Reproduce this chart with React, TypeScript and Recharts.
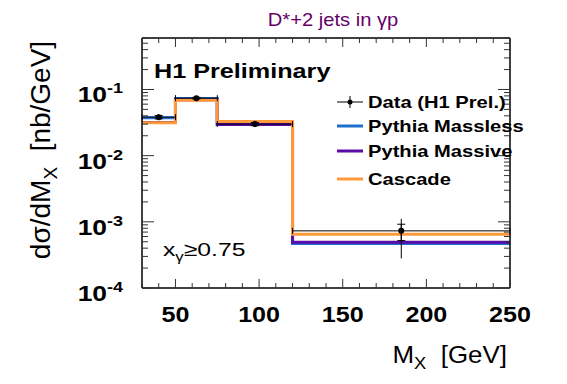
import React from 'react';
import { ComposedChart, Line, Scatter, ErrorBar, XAxis, YAxis, Legend } from 'recharts';

// histogram bin edges (M_X in GeV) and predicted cross sections per bin (nb/GeV)
const binEdges = [30, 50, 75, 120, 250];
const masslessValues = [0.0374, 0.0731, 0.0300, 0.00047];
const massiveValues = [0.0318, 0.0700, 0.0297, 0.00049];
const cascadeValues = [0.0315, 0.0690, 0.0329, 0.00065];

// H1 data points
const dataCentres = [40, 62.5, 97.5, 185];
const dataValues = [0.0382, 0.0740, 0.0300, 0.00073];
const statErrDown = [0.0022, 0.0022, 0.0017, 0.00021];
const statErrUp = [0.0022, 0.0022, 0.0017, 0.00019];
const totErrDown = [0.0037, 0.0040, 0.0030, 0.00045];
const totErrUp = [0.0043, 0.0040, 0.0035, 0.00038];

const xMajorTicks = [50, 100, 150, 200, 250];
const yDecades = [1e-4, 1e-3, 1e-2, 1e-1];
const decadeExponents = ['-4', '-3', '-2', '-1'];

const legendItems = [
  { name: 'Data (H1 Prel.)', color: '#000', isData: true },
  { name: 'Pythia Massless', color: '#1e6fd0', isData: false },
  { name: 'Pythia Massive', color: '#5a0ca6', isData: false },
  { name: 'Cascade', color: '#ff9a3a', isData: false },
];

const FONT = 'Liberation Sans, Arial, Helvetica, sans-serif';
const X_MIN = 30;
const X_MAX = 250;
const Y_MIN = 1e-4;
const Y_MAX = 0.6;

const histRows = binEdges.map((x, i) => {
  const k = Math.min(i, masslessValues.length - 1);
  return { x, massless: masslessValues[k], massive: massiveValues[k], cascade: cascadeValues[k] };
});

const pointRows = dataCentres.map((x, i) => ({
  x,
  y: dataValues[i],
  xErr: (binEdges[i + 1] - binEdges[i]) / 2,
  stat: [statErrDown[i], statErrUp[i]],
  tot: [totErrDown[i], totErrUp[i]],
}));

const xTicks: number[] = [];
for (let v = X_MIN; v <= X_MAX; v += 10) xTicks.push(v);

const yTicks: number[] = [];
yDecades.forEach(d => {
  for (let k = 1; k <= 9; k++) {
    const v = +(d * k).toPrecision(3);
    if (v <= Y_MAX) yTicks.push(v);
  }
});

const decadeIndex = (v: number) => yDecades.findIndex(d => Math.abs(v - d) < d * 1e-6);

const BottomTick = (props: any) => {
  const { x, y, payload } = props;
  const major = xMajorTicks.includes(payload.value);
  return (
    <g>
      <line x1={x} x2={x} y1={y} y2={y - (major ? 9 : 5)} stroke="#333" />
      {major && (
        <text transform={`translate(${x},${y + 34}) scale(1.14,1)`} textAnchor="middle"
          fontFamily={FONT} fontWeight="bold" fontSize={22} fill="#000">
          {payload.value}
        </text>
      )}
    </g>
  );
};

const TopTick = (props: any) => {
  const { x, y, payload } = props;
  const major = xMajorTicks.includes(payload.value);
  return <line x1={x} x2={x} y1={y} y2={y + (major ? 9 : 5)} stroke="#333" />;
};

const LeftTick = (props: any) => {
  const { x, y, payload } = props;
  const idx = decadeIndex(payload.value);
  const major = idx >= 0;
  return (
    <g>
      <line x1={x} x2={x + (major ? 12 : 6)} y1={y} y2={y} stroke="#333" />
      {major && (
        <text transform={`translate(123,${y + 13}) scale(1.2,1)`} textAnchor="end"
          fontFamily={FONT} fontWeight="bold" fontSize={22} fill="#000">
          10<tspan dy={-9} fontSize={15}>{decadeExponents[idx]}</tspan>
        </text>
      )}
    </g>
  );
};

const RightTick = (props: any) => {
  const { x, y, payload } = props;
  const major = decadeIndex(payload.value) >= 0;
  return <line x1={x} x2={x - (major ? 12 : 6)} y1={y} y2={y} stroke="#333" />;
};

const DataDot = (props: any) => {
  const { cx, cy } = props;
  return <circle cx={cx} cy={cy} r={3} fill="#000" />;
};

const LegendBox = () => {
  const rows = [14, 38, 63, 91];
  return (
    <svg width={210} height={105} style={{ overflow: 'visible' }}>
      {legendItems.map((item, i) => (
        <g key={item.name}>
          {item.isData ? (
            <g>
              <line x1={7} x2={33} y1={rows[i]} y2={rows[i]} stroke="#000" strokeWidth={1} />
              <line x1={20} x2={20} y1={rows[i] - 6} y2={rows[i] + 6} stroke="#000" strokeWidth={1} />
              <circle cx={20} cy={rows[i]} r={2.5} fill="#000" />
            </g>
          ) : (
            <line x1={7} x2={33} y1={rows[i]} y2={rows[i]} stroke={item.color} strokeWidth={3} />
          )}
          <text transform={`translate(38,${rows[i] + 6}) scale(1.26,1)`} fontFamily={FONT}
            fontWeight="bold" fontSize={16} fill="#000">
            {item.name}
          </text>
        </g>
      ))}
    </svg>
  );
};

export default function App() {
  return (
    <div style={{ position: 'absolute', left: 0, top: 0, width: 567, height: 384, background: '#fff' }}>
      <ComposedChart width={567} height={384} data={histRows}
        margin={{ top: 37, right: 56, bottom: 0, left: 0 }}>
        <XAxis xAxisId="bottom" dataKey="x" type="number" domain={[X_MIN, X_MAX]} allowDataOverflow
          ticks={xTicks} interval={0} tickLine={false} tickSize={0} tickMargin={0} height={96}
          axisLine={{ stroke: '#000', strokeWidth: 1.5 }} tick={<BottomTick />} />
        <XAxis xAxisId="top" orientation="top" dataKey="x" type="number" domain={[X_MIN, X_MAX]}
          allowDataOverflow ticks={xTicks} interval={0} tickLine={false} tickSize={0} tickMargin={0}
          height={1} axisLine={{ stroke: '#000', strokeWidth: 1.5 }} tick={<TopTick />} />
        <YAxis yAxisId="left" type="number" scale="log" domain={[Y_MIN, Y_MAX]} allowDataOverflow
          ticks={yTicks} interval={0} tickLine={false} tickSize={0} tickMargin={0} width={142}
          axisLine={{ stroke: '#000', strokeWidth: 1.5 }} tick={<LeftTick />} />
        <YAxis yAxisId="right" orientation="right" type="number" scale="log" domain={[Y_MIN, Y_MAX]}
          allowDataOverflow ticks={yTicks} interval={0} tickLine={false} tickSize={0} tickMargin={0}
          width={1} axisLine={{ stroke: '#000', strokeWidth: 1.5 }} tick={<RightTick />} />

        <Line xAxisId="bottom" yAxisId="left" type="stepAfter" dataKey="massless" name="Pythia Massless"
          stroke="#1e6fd0" strokeWidth={3} dot={false} isAnimationActive={false} />
        <Line xAxisId="bottom" yAxisId="left" type="stepAfter" dataKey="massive" name="Pythia Massive"
          stroke="#5a0ca6" strokeWidth={3} dot={false} isAnimationActive={false} />
        <Line xAxisId="bottom" yAxisId="left" type="stepAfter" dataKey="cascade" name="Cascade"
          stroke="#ff9a3a" strokeWidth={3} dot={false} isAnimationActive={false} />
        <Scatter xAxisId="bottom" yAxisId="left" data={pointRows} dataKey="y" name="Data (H1 Prel.)"
          fill="#000" shape={<DataDot />} isAnimationActive={false}>
          <ErrorBar dataKey="xErr" direction="x" width={3} stroke="#000" strokeWidth={1} />
          <ErrorBar dataKey="tot" direction="y" width={0} stroke="#000" strokeWidth={1} />
          <ErrorBar dataKey="stat" direction="y" width={4} stroke="#000" strokeWidth={1} />
        </Scatter>

        <Legend layout="vertical" align="center" verticalAlign="middle" content={<LegendBox />}
          wrapperStyle={{ left: 330, top: 88, width: 210, height: 105 }} />

        <g fontFamily={FONT}>
          <text transform="translate(333,26) scale(1.12,1)" textAnchor="middle" fontSize={18} fill="#660066">
            D*+2 jets in γp
          </text>
          <text transform="translate(154,78) scale(1.2,1)" fontSize={21} fontWeight="bold" fill="#000">
            H1 Preliminary
          </text>
          <text transform="translate(163,256) scale(1.3,1)" fontSize={19} fill="#000">
            x<tspan dy={5} fontSize={13}>γ</tspan><tspan dy={-5}>≥0.75</tspan>
          </text>
          <text transform="translate(507,363) scale(1.08,1)" textAnchor="end" fontSize={24} fill="#000">
            M<tspan dy={6} fontSize={17}>X</tspan><tspan dy={-6}>{'\u00a0\u00a0[GeV]'}</tspan>
          </text>
          <text transform="translate(50,150) rotate(-90) scale(1.12,1.1)" textAnchor="middle" fontSize={25} fill="#000">
            dσ/dM<tspan dy={6} fontSize={17}>X</tspan><tspan dy={-6}>{'\u00a0\u00a0[nb/GeV]'}</tspan>
          </text>
        </g>
      </ComposedChart>
    </div>
  );
}
